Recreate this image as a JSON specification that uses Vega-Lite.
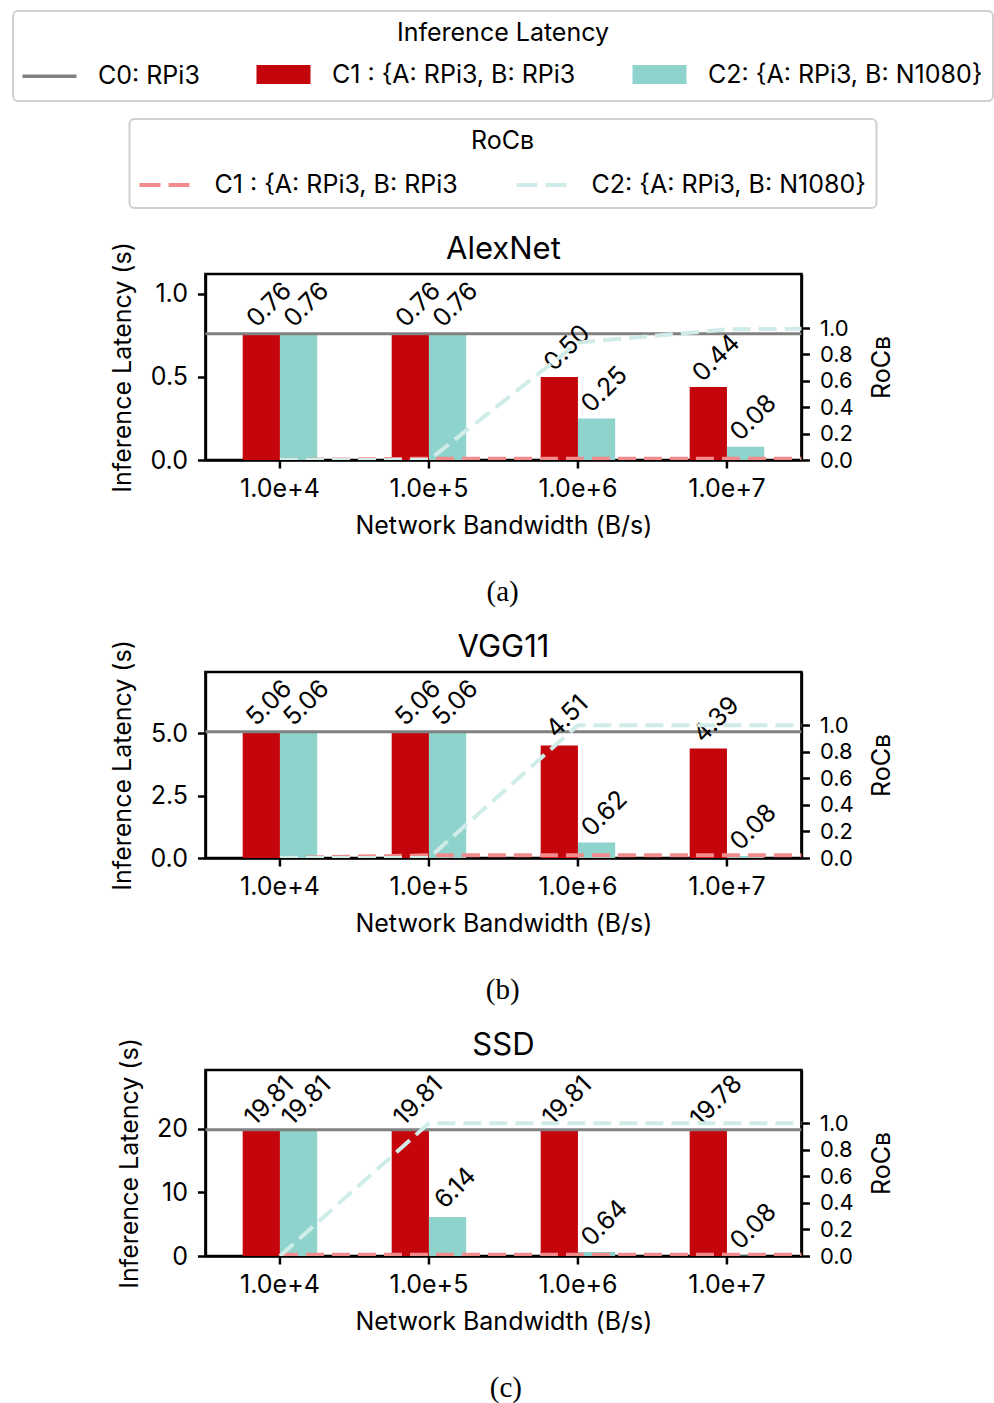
{
  "$schema": "https://vega.github.io/schema/vega-lite/v6.json",
  "background": "white",
  "padding": {"top": 10, "left": 12, "right": 0, "bottom": 0},
  "config": {
    "font": "Inter",
    "view": {"stroke": "black", "strokeWidth": 2.5},
    "axis": {
      "labelFont": "Inter", "titleFont": "Inter",
      "labelFontSize": 25, "titleFontSize": 25, "titleFontWeight": "normal",
      "labelColor": "black", "titleColor": "black",
      "domainColor": "black", "domainWidth": 2.5,
      "tickColor": "black", "tickWidth": 2.5, "tickSize": 8,
      "grid": false, "labelFlush": false, "labelOverlap": false
    },
    "axisX": {"labelPadding": 8, "titlePadding": 12, "labelAngle": 0},
    "axisY": {"labelPadding": 10, "titlePadding": 14},
    "title": {"font": "Inter", "fontSize": 31, "fontWeight": "normal", "color": "black", "anchor": "middle"},
    "legend": {
      "orient": "top",
      "labelFont": "Inter", "labelFontSize": 25, "labelColor": "black", "labelLimit": 600,
      "titleFont": "Inter", "titleFontSize": 25, "titleFontWeight": "normal", "titleColor": "black", "titleLimit": 600,
      "titleAnchor": "middle", "titlePadding": 16,
      "fillColor": "white", "strokeColor": "#d0d0d0", "cornerRadius": 5, "padding": 10,
      "offset": 24,
      "layout": {"top": {"anchor": "middle", "direction": "vertical", "center": true, "margin": 18}}
    }
  },
  "datasets": {
    "latency": [
      {"model": "AlexNet", "bw": 10000, "setup": "C1 : {A: RPi3, B: RPi3", "latency": 0.76},
      {"model": "AlexNet", "bw": 10000, "setup": "C2: {A: RPi3, B: N1080}", "latency": 0.76},
      {"model": "AlexNet", "bw": 100000, "setup": "C1 : {A: RPi3, B: RPi3", "latency": 0.76},
      {"model": "AlexNet", "bw": 100000, "setup": "C2: {A: RPi3, B: N1080}", "latency": 0.76},
      {"model": "AlexNet", "bw": 1000000, "setup": "C1 : {A: RPi3, B: RPi3", "latency": 0.50},
      {"model": "AlexNet", "bw": 1000000, "setup": "C2: {A: RPi3, B: N1080}", "latency": 0.25},
      {"model": "AlexNet", "bw": 10000000, "setup": "C1 : {A: RPi3, B: RPi3", "latency": 0.44},
      {"model": "AlexNet", "bw": 10000000, "setup": "C2: {A: RPi3, B: N1080}", "latency": 0.08},
      {"model": "VGG11", "bw": 10000, "setup": "C1 : {A: RPi3, B: RPi3", "latency": 5.06},
      {"model": "VGG11", "bw": 10000, "setup": "C2: {A: RPi3, B: N1080}", "latency": 5.06},
      {"model": "VGG11", "bw": 100000, "setup": "C1 : {A: RPi3, B: RPi3", "latency": 5.06},
      {"model": "VGG11", "bw": 100000, "setup": "C2: {A: RPi3, B: N1080}", "latency": 5.06},
      {"model": "VGG11", "bw": 1000000, "setup": "C1 : {A: RPi3, B: RPi3", "latency": 4.51},
      {"model": "VGG11", "bw": 1000000, "setup": "C2: {A: RPi3, B: N1080}", "latency": 0.62},
      {"model": "VGG11", "bw": 10000000, "setup": "C1 : {A: RPi3, B: RPi3", "latency": 4.39},
      {"model": "VGG11", "bw": 10000000, "setup": "C2: {A: RPi3, B: N1080}", "latency": 0.08},
      {"model": "SSD", "bw": 10000, "setup": "C1 : {A: RPi3, B: RPi3", "latency": 19.81},
      {"model": "SSD", "bw": 10000, "setup": "C2: {A: RPi3, B: N1080}", "latency": 19.81},
      {"model": "SSD", "bw": 100000, "setup": "C1 : {A: RPi3, B: RPi3", "latency": 19.81},
      {"model": "SSD", "bw": 100000, "setup": "C2: {A: RPi3, B: N1080}", "latency": 6.14},
      {"model": "SSD", "bw": 1000000, "setup": "C1 : {A: RPi3, B: RPi3", "latency": 19.81},
      {"model": "SSD", "bw": 1000000, "setup": "C2: {A: RPi3, B: N1080}", "latency": 0.64},
      {"model": "SSD", "bw": 10000000, "setup": "C1 : {A: RPi3, B: RPi3", "latency": 19.78},
      {"model": "SSD", "bw": 10000000, "setup": "C2: {A: RPi3, B: N1080}", "latency": 0.08}
    ],
    "baseline": [
      {"model": "AlexNet", "setup": "C0: RPi3", "latency": 0.76},
      {"model": "VGG11", "setup": "C0: RPi3", "latency": 5.06},
      {"model": "SSD", "setup": "C0: RPi3", "latency": 19.81}
    ],
    "roc": [
      {"model": "AlexNet", "setup": "C1 : {A: RPi3, B: RPi3", "bw": 10000, "roc": 0.0},
      {"model": "AlexNet", "setup": "C1 : {A: RPi3, B: RPi3", "bw": 100000, "roc": 0.01},
      {"model": "AlexNet", "setup": "C1 : {A: RPi3, B: RPi3", "bw": 1000000, "roc": 0.01},
      {"model": "AlexNet", "setup": "C1 : {A: RPi3, B: RPi3", "bw": 10000000, "roc": 0.01},
      {"model": "AlexNet", "setup": "C1 : {A: RPi3, B: RPi3", "bw": 100000000, "roc": 0.01},
      {"model": "AlexNet", "setup": "C2: {A: RPi3, B: N1080}", "bw": 10000, "roc": 0.0},
      {"model": "AlexNet", "setup": "C2: {A: RPi3, B: N1080}", "bw": 100000, "roc": 0.0},
      {"model": "AlexNet", "setup": "C2: {A: RPi3, B: N1080}", "bw": 1000000, "roc": 0.89},
      {"model": "AlexNet", "setup": "C2: {A: RPi3, B: N1080}", "bw": 10000000, "roc": 0.99},
      {"model": "AlexNet", "setup": "C2: {A: RPi3, B: N1080}", "bw": 100000000, "roc": 1.0},
      {"model": "VGG11", "setup": "C1 : {A: RPi3, B: RPi3", "bw": 10000, "roc": 0.0},
      {"model": "VGG11", "setup": "C1 : {A: RPi3, B: RPi3", "bw": 100000, "roc": 0.02},
      {"model": "VGG11", "setup": "C1 : {A: RPi3, B: RPi3", "bw": 1000000, "roc": 0.02},
      {"model": "VGG11", "setup": "C1 : {A: RPi3, B: RPi3", "bw": 10000000, "roc": 0.02},
      {"model": "VGG11", "setup": "C1 : {A: RPi3, B: RPi3", "bw": 100000000, "roc": 0.02},
      {"model": "VGG11", "setup": "C2: {A: RPi3, B: N1080}", "bw": 10000, "roc": 0.0},
      {"model": "VGG11", "setup": "C2: {A: RPi3, B: N1080}", "bw": 100000, "roc": 0.0},
      {"model": "VGG11", "setup": "C2: {A: RPi3, B: N1080}", "bw": 1000000, "roc": 1.0},
      {"model": "VGG11", "setup": "C2: {A: RPi3, B: N1080}", "bw": 10000000, "roc": 1.0},
      {"model": "VGG11", "setup": "C2: {A: RPi3, B: N1080}", "bw": 100000000, "roc": 1.0},
      {"model": "SSD", "setup": "C1 : {A: RPi3, B: RPi3", "bw": 10000, "roc": 0.01},
      {"model": "SSD", "setup": "C1 : {A: RPi3, B: RPi3", "bw": 100000, "roc": 0.01},
      {"model": "SSD", "setup": "C1 : {A: RPi3, B: RPi3", "bw": 1000000, "roc": 0.01},
      {"model": "SSD", "setup": "C1 : {A: RPi3, B: RPi3", "bw": 10000000, "roc": 0.01},
      {"model": "SSD", "setup": "C1 : {A: RPi3, B: RPi3", "bw": 100000000, "roc": 0.01},
      {"model": "SSD", "setup": "C2: {A: RPi3, B: N1080}", "bw": 10000, "roc": 0.0},
      {"model": "SSD", "setup": "C2: {A: RPi3, B: N1080}", "bw": 100000, "roc": 1.0},
      {"model": "SSD", "setup": "C2: {A: RPi3, B: N1080}", "bw": 1000000, "roc": 1.0},
      {"model": "SSD", "setup": "C2: {A: RPi3, B: N1080}", "bw": 10000000, "roc": 1.0},
      {"model": "SSD", "setup": "C2: {A: RPi3, B: N1080}", "bw": 100000000, "roc": 1.0}
    ]
  },
  "center": true,
  "spacing": 22,
  "vconcat": [
    {
      "title": {"text": "(a)", "orient": "bottom", "font": "Liberation Serif", "fontSize": 29, "fontWeight": "normal", "offset": 39},
      "vconcat": [
        {
          "title": {"text": "AlexNet", "frame": "group", "offset": -24},
          "width": 596, "height": 186,
          "layer": [
            {
              "layer": [
                {
                  "data": {"name": "latency"},
                  "transform": [{"filter": "datum.model === 'AlexNet'"}],
                  "mark": {"type": "bar"},
                  "encoding": {
                    "x": {"field": "bw", "type": "ordinal", "scale": {"paddingInner": 0.5, "paddingOuter": 0.25},
                          "axis": {"title": "Network Bandwidth (B/s)", "labelExpr": "format(datum.value, '.1e')"}},
                    "xOffset": {"field": "setup", "type": "nominal", "scale": {"domain": ["C1 : {A: RPi3, B: RPi3", "C2: {A: RPi3, B: N1080}"]}},
                    "y": {"field": "latency", "type": "quantitative", "scale": {"domain": [0, 1.12], "nice": false},
                          "axis": {"title": "Inference Latency (s)", "values": [0, 0.5, 1.0], "format": ".1f"}},
                    "color": {"field": "setup", "type": "nominal",
                              "scale": {"domain": ["C0: RPi3", "C1 : {A: RPi3, B: RPi3", "C2: {A: RPi3, B: N1080}"], "range": ["#808080", "#c4050c", "#8ed4cc"]},
                              "legend": {"title": "Inference Latency", "direction": "horizontal", "columns": 3,
                                         "symbolType": "M-2.842,-1H2.842V1H-2.842Z", "symbolSize": 361,
                                         "symbolOffset": 14, "labelOffset": 36, "columnPadding": 49,
                                         "encode": {
                                           "legend": {"update": {"strokeWidth": {"value": 2}}},
                                           "symbols": {"update": {
                                             "shape": [{"test": "datum.value === 'C0: RPi3'", "value": "M-2.842,0H2.842"}, {"value": "M-2.842,-1H2.842V1H-2.842Z"}],
                                             "stroke": [{"test": "datum.value === 'C0: RPi3'", "value": "#808080"}, {"value": "transparent"}],
                                             "strokeWidth": {"value": 3.5}
                                           }}
                                         }}}
                  }
                },
                {
                  "data": {"name": "baseline"},
                  "transform": [{"filter": "datum.model === 'AlexNet'"}],
                  "mark": {"type": "rule", "color": "#808080", "strokeWidth": 3},
                  "encoding": {"y": {"field": "latency", "type": "quantitative"}}
                },
                {
                  "data": {"name": "latency"},
                  "transform": [{"filter": "datum.model === 'AlexNet'"}],
                  "mark": {"type": "text", "angle": 315, "align": "center", "baseline": "middle", "dx": 26, "dy": -15, "fontSize": 25, "color": "black"},
                  "encoding": {
                    "x": {"field": "bw", "type": "ordinal"},
                    "xOffset": {"field": "setup", "type": "nominal"},
                    "y": {"field": "latency", "type": "quantitative"},
                    "text": {"field": "latency", "type": "quantitative", "format": ".2f"}
                  }
                }
              ]
            },
            {
              "data": {"name": "roc"},
              "transform": [{"filter": "datum.model === 'AlexNet'"}],
              "mark": {"type": "line", "strokeDash": [18, 8], "strokeWidth": 4, "clip": true},
              "encoding": {
                "x": {"field": "bw", "type": "quantitative", "scale": {"type": "log", "domain": [3162.2777, 31622776.6], "nice": false}, "axis": null},
                "y": {"field": "roc", "type": "quantitative", "scale": {"domain": [0, 1.41], "nice": false},
                      "axis": {"orient": "right", "title": "RoCʙ", "values": [0, 0.2, 0.4, 0.6, 0.8, 1.0], "format": ".1f", "labelFontSize": 22, "titleAngle": 270, "titleBaseline": "top", "titlePadding": 16}},
                "stroke": {"field": "setup", "type": "nominal",
                           "scale": {"domain": ["C1 : {A: RPi3, B: RPi3", "C2: {A: RPi3, B: N1080}"], "range": ["#f28c8c", "#d0ece9"]},
                           "legend": {"title": "RoCʙ", "direction": "horizontal", "columns": 2,
                                      "symbolType": "M-1.667,0H1.667", "symbolSize": 900, "symbolStrokeWidth": 4, "symbolDash": [21, 8],
                                      "symbolOffset": 8, "labelOffset": 33, "columnPadding": 49, "titlePadding": 14,
                                      "encode": {"legend": {"update": {"strokeWidth": {"value": 2}}}}}}
              }
            }
          ],
          "resolve": {"scale": {"x": "independent", "y": "independent"}}
        }
      ]
    },
    {
      "title": {"text": "(b)", "orient": "bottom", "font": "Liberation Serif", "fontSize": 29, "fontWeight": "normal", "offset": 39},
      "vconcat": [
        {
          "title": {"text": "VGG11", "frame": "group", "offset": -24},
          "width": 596, "height": 186,
          "layer": [
            {
              "layer": [
                {
                  "data": {"name": "latency"},
                  "transform": [{"filter": "datum.model === 'VGG11'"}],
                  "mark": {"type": "bar"},
                  "encoding": {
                    "x": {"field": "bw", "type": "ordinal", "scale": {"paddingInner": 0.5, "paddingOuter": 0.25},
                          "axis": {"title": "Network Bandwidth (B/s)", "labelExpr": "format(datum.value, '.1e')"}},
                    "xOffset": {"field": "setup", "type": "nominal", "scale": {"domain": ["C1 : {A: RPi3, B: RPi3", "C2: {A: RPi3, B: N1080}"]}},
                    "y": {"field": "latency", "type": "quantitative", "scale": {"domain": [0, 7.46], "nice": false},
                          "axis": {"title": "Inference Latency (s)", "values": [0, 2.5, 5.0], "format": ".1f"}},
                    "color": {"field": "setup", "type": "nominal",
                              "scale": {"domain": ["C0: RPi3", "C1 : {A: RPi3, B: RPi3", "C2: {A: RPi3, B: N1080}"], "range": ["#808080", "#c4050c", "#8ed4cc"]}}
                  }
                },
                {
                  "data": {"name": "baseline"},
                  "transform": [{"filter": "datum.model === 'VGG11'"}],
                  "mark": {"type": "rule", "color": "#808080", "strokeWidth": 3},
                  "encoding": {"y": {"field": "latency", "type": "quantitative"}}
                },
                {
                  "data": {"name": "latency"},
                  "transform": [{"filter": "datum.model === 'VGG11'"}],
                  "mark": {"type": "text", "angle": 315, "align": "center", "baseline": "middle", "dx": 26, "dy": -15, "fontSize": 25, "color": "black"},
                  "encoding": {
                    "x": {"field": "bw", "type": "ordinal"},
                    "xOffset": {"field": "setup", "type": "nominal"},
                    "y": {"field": "latency", "type": "quantitative"},
                    "text": {"field": "latency", "type": "quantitative", "format": ".2f"}
                  }
                }
              ]
            },
            {
              "data": {"name": "roc"},
              "transform": [{"filter": "datum.model === 'VGG11'"}],
              "mark": {"type": "line", "strokeDash": [18, 8], "strokeWidth": 4, "clip": true},
              "encoding": {
                "x": {"field": "bw", "type": "quantitative", "scale": {"type": "log", "domain": [3162.2777, 31622776.6], "nice": false}, "axis": null},
                "y": {"field": "roc", "type": "quantitative", "scale": {"domain": [0, 1.40], "nice": false},
                      "axis": {"orient": "right", "title": "RoCʙ", "values": [0, 0.2, 0.4, 0.6, 0.8, 1.0], "format": ".1f", "labelFontSize": 22, "titleAngle": 270, "titleBaseline": "top", "titlePadding": 16}},
                "stroke": {"field": "setup", "type": "nominal",
                           "scale": {"domain": ["C1 : {A: RPi3, B: RPi3", "C2: {A: RPi3, B: N1080}"], "range": ["#f28c8c", "#d0ece9"]}}
              }
            }
          ],
          "resolve": {"scale": {"x": "independent", "y": "independent"}}
        }
      ]
    },
    {
      "title": {"text": "(c)", "orient": "bottom", "font": "Liberation Serif", "fontSize": 29, "fontWeight": "normal", "offset": 39},
      "vconcat": [
        {
          "title": {"text": "SSD", "frame": "group", "offset": -24},
          "width": 596, "height": 186,
          "layer": [
            {
              "layer": [
                {
                  "data": {"name": "latency"},
                  "transform": [{"filter": "datum.model === 'SSD'"}],
                  "mark": {"type": "bar"},
                  "encoding": {
                    "x": {"field": "bw", "type": "ordinal", "scale": {"paddingInner": 0.5, "paddingOuter": 0.25},
                          "axis": {"title": "Network Bandwidth (B/s)", "labelExpr": "format(datum.value, '.1e')"}},
                    "xOffset": {"field": "setup", "type": "nominal", "scale": {"domain": ["C1 : {A: RPi3, B: RPi3", "C2: {A: RPi3, B: N1080}"]}},
                    "y": {"field": "latency", "type": "quantitative", "scale": {"domain": [0, 29.2], "nice": false},
                          "axis": {"title": "Inference Latency (s)", "values": [0, 10, 20], "format": "d"}},
                    "color": {"field": "setup", "type": "nominal",
                              "scale": {"domain": ["C0: RPi3", "C1 : {A: RPi3, B: RPi3", "C2: {A: RPi3, B: N1080}"], "range": ["#808080", "#c4050c", "#8ed4cc"]}}
                  }
                },
                {
                  "data": {"name": "baseline"},
                  "transform": [{"filter": "datum.model === 'SSD'"}],
                  "mark": {"type": "rule", "color": "#808080", "strokeWidth": 3},
                  "encoding": {"y": {"field": "latency", "type": "quantitative"}}
                },
                {
                  "data": {"name": "latency"},
                  "transform": [{"filter": "datum.model === 'SSD'"}],
                  "mark": {"type": "text", "angle": 315, "align": "center", "baseline": "middle", "dx": 26, "dy": -15, "fontSize": 25, "color": "black"},
                  "encoding": {
                    "x": {"field": "bw", "type": "ordinal"},
                    "xOffset": {"field": "setup", "type": "nominal"},
                    "y": {"field": "latency", "type": "quantitative"},
                    "text": {"field": "latency", "type": "quantitative", "format": ".2f"}
                  }
                }
              ]
            },
            {
              "data": {"name": "roc"},
              "transform": [{"filter": "datum.model === 'SSD'"}],
              "mark": {"type": "line", "strokeDash": [18, 8], "strokeWidth": 4, "clip": true},
              "encoding": {
                "x": {"field": "bw", "type": "quantitative", "scale": {"type": "log", "domain": [3162.2777, 31622776.6], "nice": false}, "axis": null},
                "y": {"field": "roc", "type": "quantitative", "scale": {"domain": [0, 1.40], "nice": false},
                      "axis": {"orient": "right", "title": "RoCʙ", "values": [0, 0.2, 0.4, 0.6, 0.8, 1.0], "format": ".1f", "labelFontSize": 22, "titleAngle": 270, "titleBaseline": "top", "titlePadding": 16}},
                "stroke": {"field": "setup", "type": "nominal",
                           "scale": {"domain": ["C1 : {A: RPi3, B: RPi3", "C2: {A: RPi3, B: N1080}"], "range": ["#f28c8c", "#d0ece9"]}}
              }
            }
          ],
          "resolve": {"scale": {"x": "independent", "y": "independent"}}
        }
      ]
    }
  ]
}
